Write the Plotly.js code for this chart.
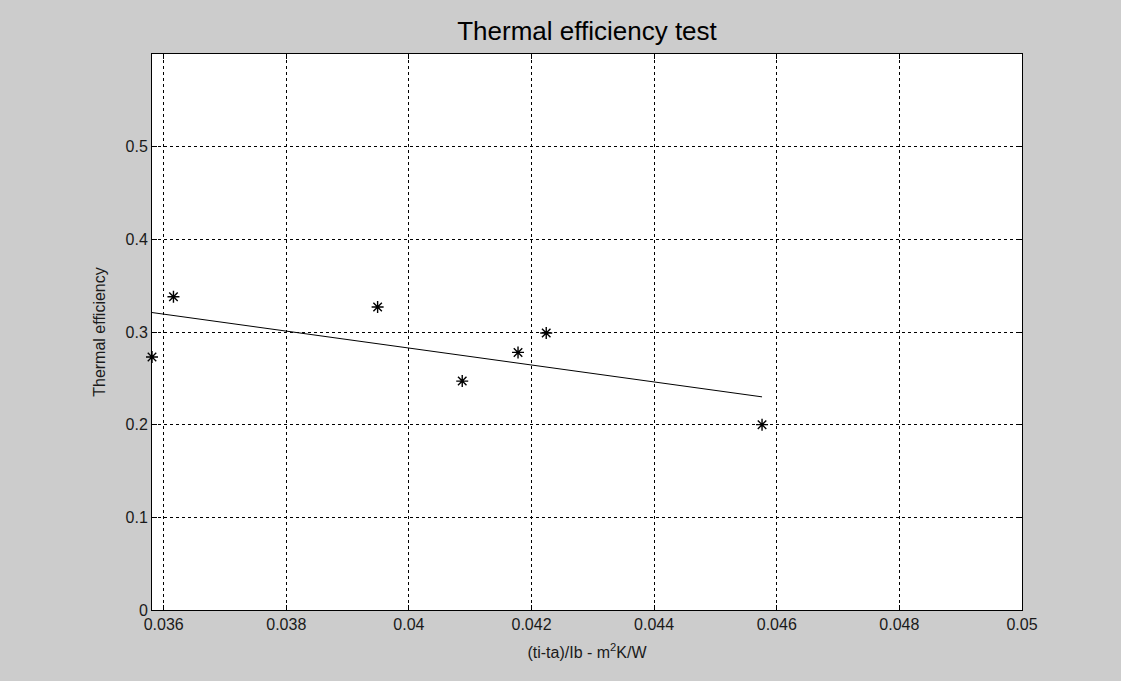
<!DOCTYPE html>
<html>
<head>
<meta charset="utf-8">
<script src="https://cdn.plot.ly/plotly-3.0.1.min.js"></script>
<style>
  html, body { margin: 0; padding: 0; background: #cccccc; }
  #chart { width: 1121px; height: 681px; }
</style>
</head>
<body>
<div id="chart"></div>
<script>
// Measured test points
var testX = [0.03581, 0.03616, 0.03949, 0.04087, 0.04178, 0.04224, 0.04576];
var testY = [0.273, 0.338, 0.327, 0.247, 0.278, 0.299, 0.200];

// Fitted line endpoints
var fitX = [0.03581, 0.04576];
var fitY = [0.321, 0.230];

// Tick labels
var xTickVals = [0.036, 0.038, 0.040, 0.042, 0.044, 0.046, 0.048, 0.050];
var xTickText = ['0.036', '0.038', '0.04', '0.042', '0.044', '0.046', '0.048', '0.05'];
var yTickVals = [0, 0.1, 0.2, 0.3, 0.4, 0.5];
var yTickText = ['0', '0.1', '0.2', '0.3', '0.4', '0.5'];

var font = 'Liberation Sans, Arial, sans-serif';

var traces = [
  {
    x: fitX, y: fitY, type: 'scatter', mode: 'lines',
    line: { color: '#000000', width: 1 },
    hoverinfo: 'skip', showlegend: false
  },
  {
    x: testX, y: testY, type: 'scatter', mode: 'markers',
    marker: { symbol: 'asterisk-open', size: 10, color: '#000000', line: { color: '#000000', width: 1.4 } },
    showlegend: false, cliponaxis: false
  }
];

var axisCommon = {
  showline: true, linecolor: '#000000', linewidth: 1, mirror: 'ticks',
  ticks: 'inside', ticklen: 5, tickcolor: '#000000', tickwidth: 1,
  showgrid: true, gridcolor: '#000000', gridwidth: 1, griddash: '3px,3px',
  zeroline: false,
  tickfont: { family: font, size: 16, color: '#1a1a1a' }
};

var layout = {
  width: 1121, height: 681,
  paper_bgcolor: '#cccccc', plot_bgcolor: '#ffffff',
  margin: { l: 152, r: 99, t: 54, b: 71 },
  title: {
    text: 'Thermal efficiency test',
    font: { family: font, size: 26, color: '#000000' },
    x: 0.5, xref: 'paper', y: 1 - 31 / 681, yref: 'container', yanchor: 'middle'
  },
  xaxis: Object.assign({}, axisCommon, {
    range: [0.03581, 0.05],
    tickvals: xTickVals, ticktext: xTickText,
    title: { text: '(ti-ta)/Ib - m<sup>2</sup>K/W', font: { family: font, size: 16, color: '#1a1a1a' }, standoff: 14 }
  }),
  yaxis: Object.assign({}, axisCommon, {
    range: [0, 0.6],
    tickvals: yTickVals, ticktext: yTickText,
    title: { text: 'Thermal efficiency', font: { family: font, size: 16, color: '#1a1a1a' }, standoff: 15 }
  }),
  showlegend: false
};

Plotly.newPlot('chart', traces, layout, { displayModeBar: false, staticPlot: true });
</script>
</body>
</html>
